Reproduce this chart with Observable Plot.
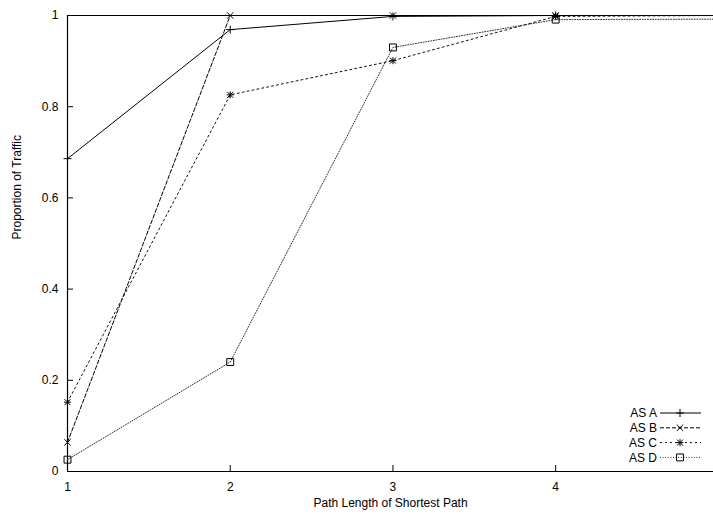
<!DOCTYPE html>
<html>
<head>
<meta charset="utf-8">
<script src="https://cdn.jsdelivr.net/npm/d3@7"></script>
<script src="https://cdn.jsdelivr.net/npm/@observablehq/plot@0.6"></script>
<style>
  html, body { margin: 0; padding: 0; background: #fff; }
  #chart svg { display: block; }
</style>
</head>
<body>
<div id="chart"></div>
<script>
// ---- data ----
const pathLengths = [1, 2, 3, 4, 5];
const asA = [0.686, 0.969, 0.998, 1.0, 1.0];
const asB = [0.064, 1.0, 1.0, 1.0, 1.0];
const asC = [0.152, 0.826, 0.901, 0.998, 1.0];
const asD = [0.026, 0.240, 0.930, 0.991, 0.992];
const seriesNames = ["AS A", "AS B", "AS C", "AS D"];
const xTicks = [1, 2, 3, 4];
const yTicks = [0, 0.2, 0.4, 0.6, 0.8, 1];
const xLabel = "Path Length of Shortest Path";
const yLabel = "Proportion of Traffic";

const seriesValues = [asA, asB, asC, asD];
const dashes = ["none", "4,2", "2,3", "1,1.6"];
const lineColors = ["#000", "#000", "#111", "#333"];

const rows = [];
seriesNames.forEach((name, i) => {
  pathLengths.forEach((x, j) => rows.push({series: name, x, y: seriesValues[i][j]}));
});
const byName = n => rows.filter(d => d.series === n);
const shownPoints = n => byName(n).filter(d => d.x <= 4);

const W = 713, H = 518;
const ML = 67, MT = 15, MB = 47, MR = 0;
const frameW = W - ML - MR, frameH = H - MT - MB;
const tickLen = 6;
const fmt = d => String(d);

const chart = Plot.plot({
  width: W,
  height: H,
  marginLeft: ML,
  marginRight: MR,
  marginTop: MT,
  marginBottom: MB,
  style: {fontFamily: "'Liberation Sans', Arial, sans-serif", fontSize: "12px", color: "#000", background: "#fff"},
  x: {domain: [1, 4.97], label: null},
  y: {domain: [0, 1], label: null},
  marks: [
    // frame (left, bottom, top; right border lies just outside the picture)
    Plot.ruleX([1], {stroke: "#000", strokeWidth: 1.2}),
    Plot.ruleY([0], {stroke: "#000", strokeWidth: 1.2}),
    Plot.ruleY([1], {stroke: "#000", strokeWidth: 1}),
    // inward ticks
    Plot.tickY(yTicks.slice(1, -1), {y: d => d, insetRight: frameW - tickLen, stroke: "#000"}),
    Plot.tickX(xTicks.slice(1), {x: d => d, insetTop: frameH - tickLen, stroke: "#000"}),
    // tick labels
    Plot.axisY(yTicks, {tickSize: 0, tickPadding: 9, label: null, fontSize: 12, tickFormat: fmt}),
    Plot.axisX(xTicks, {tickSize: 0, tickPadding: 11, label: null, fontSize: 12, tickFormat: fmt}),
    // axis titles
    Plot.text([yLabel], {frameAnchor: "left", dx: -50, dy: -4, rotate: -90, fontSize: 12, fill: "#000"}),
    Plot.text([xLabel], {frameAnchor: "bottom", dy: 35, fontSize: 12, fill: "#000"}),
    // series lines
    ...seriesNames.map((n, i) => Plot.line(byName(n), {x: "x", y: "y", stroke: lineColors[i], strokeWidth: 1, strokeDasharray: dashes[i], clip: true})),
    // markers
    Plot.dot(shownPoints("AS A"), {x: "x", y: "y", symbol: "plus", r: 2.7, stroke: "#000", strokeWidth: 1}),
    Plot.dot(shownPoints("AS B"), {x: "x", y: "y", symbol: "times", r: 3, stroke: "#000", strokeWidth: 1}),
    Plot.dot(shownPoints("AS C"), {x: "x", y: "y", symbol: "plus", r: 2.4, stroke: "#000", strokeWidth: 1}),
    Plot.dot(shownPoints("AS C"), {x: "x", y: "y", symbol: "times", r: 2.8, stroke: "#000", strokeWidth: 1}),
    Plot.dot(shownPoints("AS D"), {x: "x", y: "y", symbol: "square2", r: 4.4, stroke: "#000", fill: "none", strokeWidth: 1})
  ]
});
document.getElementById("chart").appendChild(chart);

// ---- key (inside plot, lower right) ----
const svg = d3.select(chart);
const key = svg.append("g").attr("font-family", "'Liberation Sans', Arial, sans-serif").attr("font-size", 12);
const keyX = 657, keyY0 = 413, keyDy = 14.8, sampleX1 = 660, sampleX2 = 701, symX = 680;
const symDefs = [
  [[d3.symbolPlus, Math.PI * 2.7 * 2.7]],
  [[d3.symbolTimes, Math.PI * 3 * 3]],
  [[d3.symbolPlus, Math.PI * 2.4 * 2.4], [d3.symbolTimes, Math.PI * 2.8 * 2.8]],
  [[d3.symbolSquare2, Math.PI * 4.4 * 4.4]]
];
seriesNames.forEach((n, i) => {
  const y = keyY0 + i * keyDy;
  key.append("text").attr("x", keyX).attr("y", y).attr("dy", "0.35em").attr("text-anchor", "end").attr("fill", "#000").text(n);
  key.append("line").attr("x1", sampleX1).attr("x2", sampleX2).attr("y1", y).attr("y2", y)
    .attr("stroke", lineColors[i]).attr("stroke-width", 1).attr("stroke-dasharray", dashes[i] === "none" ? null : dashes[i]);
  symDefs[i].forEach(([t, s]) => {
    key.append("path").attr("d", d3.symbol(t, s)()).attr("transform", `translate(${symX},${y})`)
      .attr("fill", "none").attr("stroke", "#000").attr("stroke-width", 1);
  });
});
</script>
</body>
</html>
